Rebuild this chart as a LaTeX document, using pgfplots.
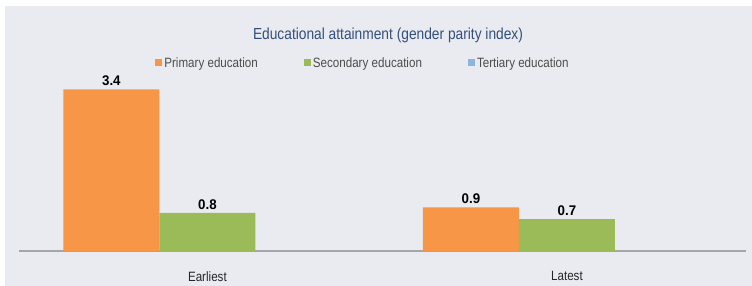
\documentclass[border=0pt]{standalone}
\usepackage{fontspec}
\setmainfont{Liberation Sans}[FakeStretch=0.86]
\newfontfamily\numfont{Liberation Sans}[FakeStretch=0.95]
\usepackage{pgfplots}
\pgfplotsset{compat=1.18}
\definecolor{bgpanel}{HTML}{E9EBF0}
\definecolor{prim}{HTML}{F79646}
\definecolor{seco}{HTML}{9BBB59}
\definecolor{tert}{HTML}{8DB4E2}
\definecolor{titleblue}{HTML}{34507A}
\definecolor{axisgrey}{HTML}{A6A6A6}
\begin{document}
\begin{tikzpicture}[x=1pt,y=1pt]
\fill[white] (0,0) rectangle (752,286);
\fill[bgpanel] (5,0) rectangle (752,280);
\node[text=titleblue,font=\fontsize{16}{18}\selectfont] at (388,251) {Educational attainment (gender parity index)};
\begin{axis}[
  at={(19pt,35pt)}, anchor=south west,
  scale only axis, width=727pt, height=171pt,
  ybar, bar width=96pt, ymin=0, ymax=3.6,
  xmin=-0.524, xmax=1.498,
  axis x line*=bottom, axis y line=none,
  axis line style={axisgrey, line width=1.2pt},
  xtick={0,1}, xticklabels={Earliest,Latest},
  major tick length=0,
  xticklabel style={font=\fontsize{13.5}{15}\selectfont, text=black!85, yshift=-17pt},
  ytick=\empty,
  clip=false,
  nodes near coords,
  every node near coord/.append style={font=\numfont\bfseries\fontsize{14}{16}\selectfont, text=black, yshift=0pt},
  /pgf/number format/.cd, fixed, fixed zerofill, precision=1, assume math mode=true,
  /pgfplots/.cd,
  legend columns=3,
  legend style={at={(344pt,188pt)}, anchor=center, draw=none, fill=none,
    font=\fontsize{13.5}{15}\selectfont, text=black!70,
    /tikz/every even column/.append style={column sep=44pt}},
  legend image code/.code={\fill[#1] (0pt,-3.5pt) rectangle (7pt,3.5pt);},
]
\addplot[fill=prim, draw=none, bar shift=-96pt] coordinates {(0,3.4) (1,0.92)};
\addplot[fill=seco, draw=none, bar shift=0pt] coordinates {(0,0.8) (1,0.67)};
\addlegendimage{fill=tert, draw=none}
\legend{Primary education, Secondary education, Tertiary education}
\end{axis}
\end{tikzpicture}
\end{document}
